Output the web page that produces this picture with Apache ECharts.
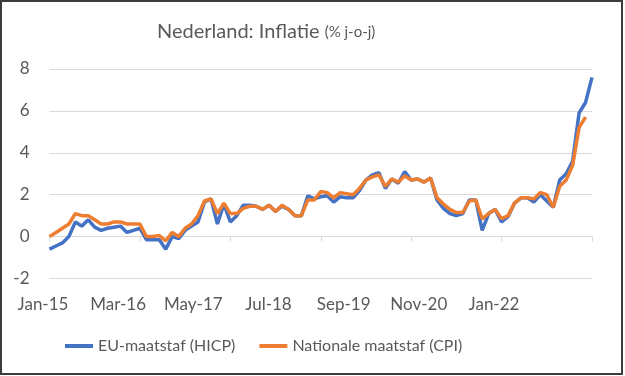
<!DOCTYPE html>
<html>
<head>
<meta charset="utf-8">
<script src="https://cdn.jsdelivr.net/npm/echarts@6/dist/echarts.min.js"></script>
<style>
  html, body { margin: 0; padding: 0; background: #fff; }
  #frame { width: 623px; height: 375px; box-sizing: border-box; border: 2px solid #3c3c3c; }
  #chart { position: absolute; left: 0; top: 0; width: 625px; height: 376px; }
</style>
</head>
<body>
<div id="frame"></div>
<div id="chart"></div>
<script>
// maanden jan-15 .. jan-22
const monthNames = ['Jan', 'Feb', 'Mar', 'Apr', 'May', 'Jun', 'Jul', 'Aug', 'Sep', 'Oct', 'Nov', 'Dec'];
const months = [];
for (let y = 15; y <= 22; y++) {
  for (let m = 0; m < 12; m++) {
    if (y === 22 && m > 0) break;
    months.push(monthNames[m] + '-' + y);
  }
}

const tickLabels = ['Jan-15', 'Mar-16', 'May-17', 'Jul-18', 'Sep-19', 'Nov-20', 'Jan-22'];

// EU-maatstaf (HICP)
const hicp = [
  -0.6, -0.45, -0.3, 0.0, 0.7, 0.5, 0.8, 0.45, 0.3, 0.4, 0.45, 0.5,
  0.2, 0.3, 0.4, -0.15, -0.15, -0.15, -0.6, 0.0, -0.1, 0.3, 0.5, 0.7,
  1.65, 1.8, 0.6, 1.55, 0.7, 1.0, 1.5, 1.5, 1.45, 1.3, 1.5, 1.2,
  1.45, 1.3, 1.0, 1.0, 1.95, 1.8, 1.9, 1.95, 1.65, 1.9, 1.85, 1.85,
  2.2, 2.7, 2.95, 3.05, 2.3, 2.75, 2.55, 3.1, 2.7, 2.75, 2.6, 2.8,
  1.75, 1.35, 1.1, 1.0, 1.1, 1.75, 1.75, 0.3, 1.1, 1.3, 0.7, 0.95,
  1.6, 1.85, 1.85, 1.65, 2.0, 1.7, 1.4, 2.7, 3.0, 3.6, 5.9, 6.4,
  7.6
];

// Nationale maatstaf (CPI)
const cpi = [
  0.0, 0.2, 0.4, 0.6, 1.1, 1.0, 1.0, 0.8, 0.6, 0.6, 0.7, 0.7,
  0.6, 0.6, 0.6, 0.0, 0.0, 0.05, -0.2, 0.2, 0.0, 0.4, 0.6, 1.0,
  1.7, 1.8, 1.1, 1.6, 1.1, 1.1, 1.35, 1.45, 1.45, 1.3, 1.5, 1.2,
  1.5, 1.3, 1.0, 1.0, 1.75, 1.75, 2.15, 2.1, 1.85, 2.1, 2.05, 2.0,
  2.3, 2.7, 2.85, 2.95, 2.4, 2.75, 2.6, 2.9, 2.7, 2.75, 2.6, 2.8,
  1.85, 1.55, 1.3, 1.15, 1.15, 1.7, 1.75, 0.85, 1.1, 1.3, 0.85, 1.0,
  1.6, 1.85, 1.85, 1.8, 2.1, 2.0, 1.4, 2.4, 2.7, 3.4, 5.2, 5.7
];

const grey = '#595959';
const gridGrey = '#d9d9d9';
const font = 'Lato';

let chart = echarts.init(document.getElementById('chart'));
let option = {
  animation: false,
  title: {
    text: '{a|Nederland: Inflatie} {b|(% j-o-j)}',
    left: 152,
    top: 17,
    textStyle: {
      rich: {
        a: { fontFamily: font, fontSize: 20, fontWeight: 'normal', color: grey },
        b: { fontFamily: font, fontSize: 15, fontWeight: 'normal', color: grey }
      }
    }
  },
  legend: {
    bottom: 17,
    left: 60,
    icon: 'rect',
    itemWidth: 28,
    itemHeight: 4,
    itemGap: 24,
    textStyle: { fontFamily: font, fontSize: 16, color: grey },
    data: ['EU-maatstaf (HICP)', 'Nationale maatstaf (CPI)']
  },
  grid: [
    { left: 49.5, right: 33, top: 69, bottom: 97.5 },
    { left: 43, right: 131, top: 279, height: 10 }
  ],
  xAxis: [
    {
      type: 'category',
      gridIndex: 0,
      data: months,
      boundaryGap: false,
      axisLine: { onZero: true, lineStyle: { color: gridGrey, width: 1 } },
      axisTick: {
        show: true,
        length: 5,
        interval: function (i) { return i % 14 === 0 },
        lineStyle: { color: gridGrey }
      },
      axisLabel: { show: false },
      splitLine: { show: false }
    },
    {
      type: 'category',
      gridIndex: 1,
      data: tickLabels,
      boundaryGap: false,
      axisLine: { show: false },
      axisTick: { show: false },
      axisLabel: { margin: 7, fontFamily: font, fontSize: 17, color: grey, interval: 0 }
    }
  ],
  yAxis: [
    {
      type: 'value',
      gridIndex: 0,
      min: -2,
      max: 8,
      interval: 2,
      axisLine: { show: false },
      axisTick: { show: false },
      axisLabel: { margin: 20, fontFamily: font, fontSize: 17, color: grey },
      splitLine: { lineStyle: { color: gridGrey, width: 1 } }
    },
    {
      type: 'value',
      gridIndex: 1,
      show: false
    }
  ],
  series: [
    {
      name: 'EU-maatstaf (HICP)',
      type: 'line',
      data: hicp,
      showSymbol: false,
      itemStyle: { color: '#4472C4' },
      lineStyle: { color: '#4472C4', width: 3.5 }
    },
    {
      name: 'Nationale maatstaf (CPI)',
      type: 'line',
      data: cpi,
      showSymbol: false,
      itemStyle: { color: '#ED7D31' },
      lineStyle: { color: '#ED7D31', width: 3.5 }
    }
  ]
};
chart.setOption(option);
</script>
</body>
</html>
